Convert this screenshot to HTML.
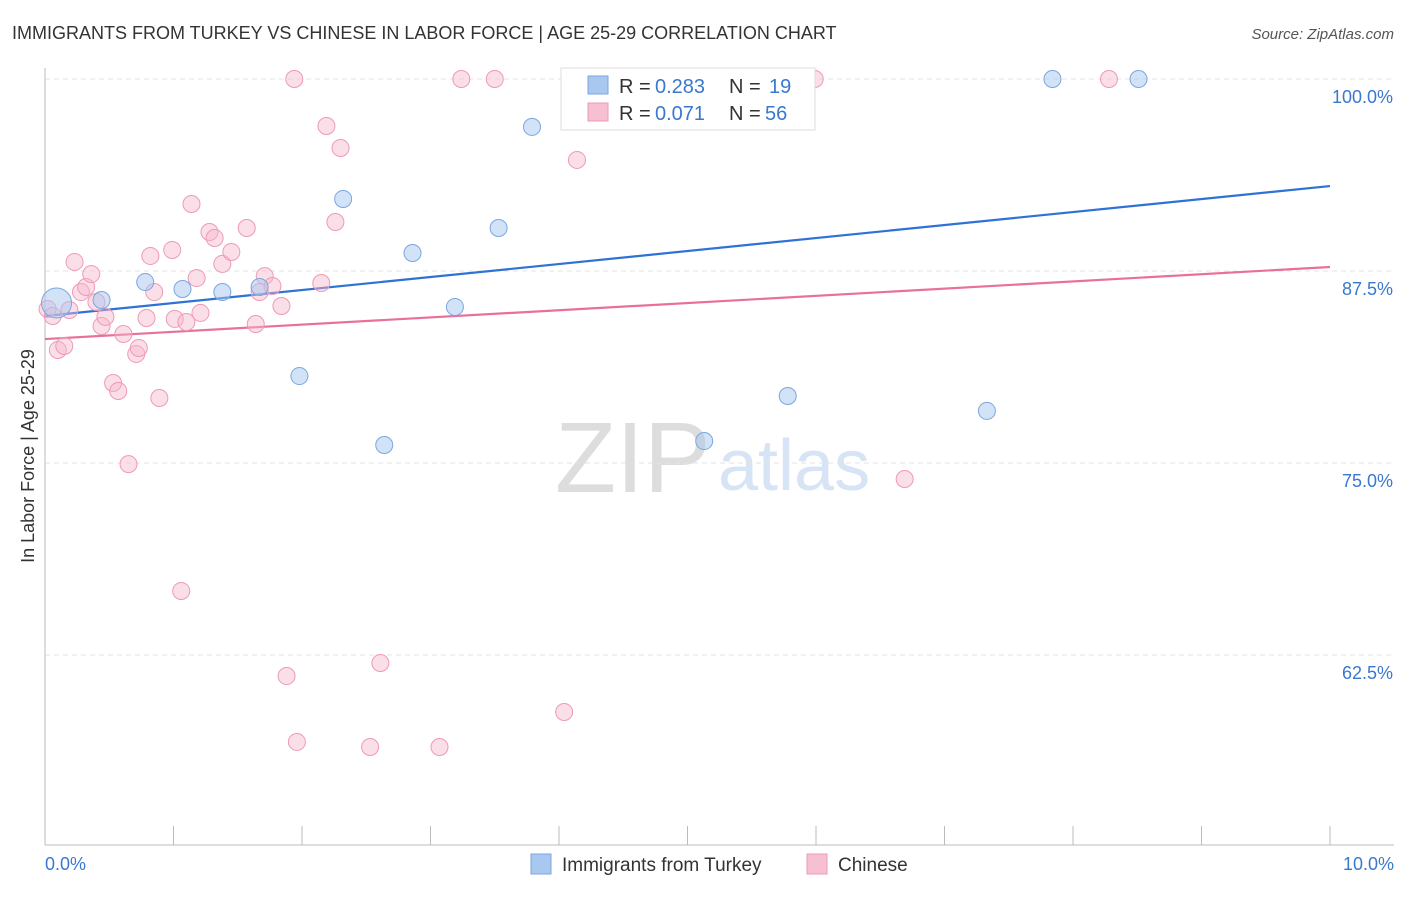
<!DOCTYPE html>
<html><head><meta charset="utf-8"><style>
body{margin:0;background:#fff;font-family:"Liberation Sans",sans-serif;}
svg text{font-family:"Liberation Sans",sans-serif;}
</style></head><body>
<svg id="chart" width="1406" height="892">
<text x="12" y="39" font-size="18" fill="#333">IMMIGRANTS FROM TURKEY VS CHINESE IN LABOR FORCE | AGE 25-29 CORRELATION CHART</text>
<text x="1394" y="39" font-size="15" fill="#555" text-anchor="end" font-style="italic">Source: ZipAtlas.com</text>
<text transform="translate(34,456) rotate(-90)" font-size="18" fill="#333" text-anchor="middle">In Labor Force | Age 25-29</text>
<text x="555" y="492" font-size="100" fill="#ddd" font-family="Liberation Serif">ZIP</text>
<text x="718" y="490" font-size="72" fill="#d6e4f5">atlas</text>
<g id="grid"></g><g id="lines"></g><g id="pts"></g>
<g>
<rect x="561" y="68" width="254" height="62" fill="#fff" stroke="#ddd"/>
<rect x="588" y="76" width="20" height="18" fill="#a8c8f0" stroke="#7aa6e0"/>
<rect x="588" y="103" width="20" height="18" fill="#f7c0d2" stroke="#ee9ab5"/>
<text x="619" y="93" font-size="20" fill="#333">R =</text>
<text x="655" y="93" font-size="20" fill="#3a78d0">0.283</text>
<text x="729" y="93" font-size="20" fill="#333">N =</text>
<text x="769" y="93" font-size="20" fill="#3a78d0">19</text>
<text x="619" y="120" font-size="20" fill="#333">R =</text>
<text x="655" y="120" font-size="20" fill="#3a78d0">0.071</text>
<text x="729" y="120" font-size="20" fill="#333">N =</text>
<text x="765" y="120" font-size="20" fill="#3a78d0">56</text>
</g>
<g>
<rect x="531" y="854" width="20" height="20" fill="#a8c8f0" stroke="#7aa6e0"/>
<text x="562" y="871" font-size="19" fill="#333">Immigrants from Turkey</text>
<rect x="807" y="854" width="20" height="20" fill="#f7c0d2" stroke="#ee9ab5"/>
<text x="838" y="871" font-size="19" fill="#333">Chinese</text>
</g>
<text x="45" y="870" font-size="18" fill="#3a78d0">0.0%</text>
<text x="1394" y="870" font-size="18" fill="#3a78d0" text-anchor="end">10.0%</text>
</svg>
<script>
const yTicks=[100,87.5,75,62.5];
const blueX=[0.09,0.44,0.78,1.07,1.38,1.67,1.98,2.32,2.64,2.86,3.19,3.53,3.79,4.51,5.13,5.78,7.33,7.84,8.51];
const blueY=[85.42,85.61,86.78,86.33,86.13,86.46,80.66,92.19,76.17,88.67,85.16,90.30,96.88,100,76.43,79.36,78.39,100,100];
const pinkX=[0.02,0.06,0.10,0.15,0.19,0.23,0.28,0.32,0.36,0.40,0.44,0.47,0.53,0.57,0.61,0.65,0.71,0.73,0.79,0.82,0.85,0.89,0.99,1.01,1.06,1.10,1.14,1.18,1.21,1.28,1.32,1.38,1.45,1.57,1.64,1.67,1.71,1.77,1.84,1.88,1.94,1.96,2.15,2.19,2.26,2.30,2.53,2.61,3.07,3.24,3.50,4.04,4.14,5.99,6.69,8.28];
const pinkY=[85.03,84.57,82.36,82.62,84.96,88.09,86.13,86.46,87.30,85.48,83.92,84.51,80.21,79.69,83.40,74.93,82.10,82.49,84.44,88.48,86.13,79.23,88.87,84.38,66.67,84.18,91.86,87.04,84.77,90.04,89.65,87.96,88.74,90.30,84.05,86.13,87.17,86.52,85.22,61.13,100,56.84,86.72,96.94,90.69,95.51,56.51,61.98,56.51,100,100,58.79,94.73,100,73.96,100];
const blueTrend=[84.57,93.03];
const pinkTrend=[83.07,87.76];
const NS='http://www.w3.org/2000/svg';
const sx=v=>45+v*128.5, sy=v=>79+(100-v)*15.36;
function mk(t,a,p){const e=document.createElementNS(NS,t);for(const k in a)e.setAttribute(k,a[k]);p.appendChild(e);return e;}
const g=document.getElementById('grid');
yTicks.forEach(t=>{
 const l=mk('line',{x1:45,x2:1394,y1:sy(t),y2:sy(t),stroke:'#e3e3e3','stroke-dasharray':'5,4'},g);
 
 
 const tx=mk('text',{x:1393,y:sy(t)+24,'font-size':18,fill:'#3a78d0','text-anchor':'end'},g);
 tx.textContent=t.toFixed(1)+'%';
 
 
});
const ax=mk('line',{x1:45,x2:45,y1:68,y2:845,stroke:'#bbb'},g);


const bx=mk('line',{x1:45,x2:1394,y1:845,y2:845,stroke:'#bbb'},g);


for(let i=0;i<=10;i++){const t=mk('line',{x1:sx(i),x2:sx(i),y1:826,y2:845,stroke:'#bbb'},g);
 
 }
const L=document.getElementById('lines');
const bl=mk('line',{x1:sx(0),y1:sy(blueTrend[0]),x2:sx(10),y2:sy(blueTrend[1]),stroke:'#2f72d6','stroke-width':2.2},L);


const pl=mk('line',{x1:sx(0),y1:sy(pinkTrend[0]),x2:sx(10),y2:sy(pinkTrend[1]),stroke:'#e8709a','stroke-width':2.2},L);


const P=document.getElementById('pts');
pinkX.forEach((x,i)=>{const c=mk('circle',{cx:sx(x),cy:sy(pinkY[i]),r:8.5,fill:'rgba(247,184,204,0.45)',stroke:'#ee9ab5','stroke-width':1},P);
 
 });
blueX.forEach((x,i)=>{const c=mk('circle',{cx:sx(x),cy:sy(blueY[i]),r:i==0?15:8.5,fill:'rgba(168,200,240,0.5)',stroke:'#7aa6e0','stroke-width':1},P);
 
 });
</script>
</body></html>
